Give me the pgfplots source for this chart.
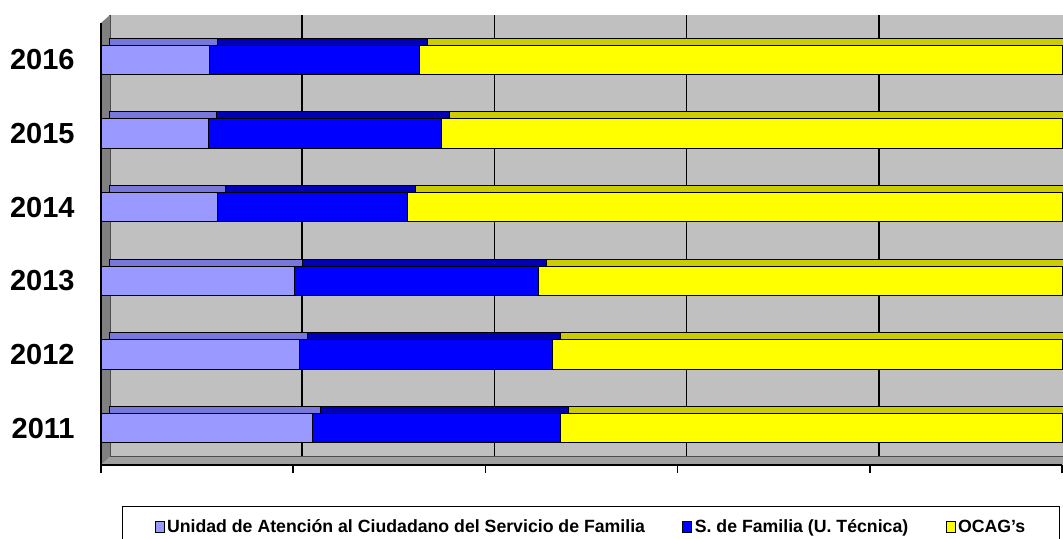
\documentclass[border=0pt]{standalone}
\usepackage{fontspec}
\setmainfont{Liberation Sans}
\usepackage{pgfplots}
\pgfplotsset{compat=1.18}
\definecolor{ltblue}{HTML}{9999FF}
\definecolor{ltbluetop}{HTML}{7878DC}
\definecolor{dkblue}{HTML}{0000FF}
\definecolor{dkbluetop}{HTML}{0000B4}
\definecolor{ylw}{HTML}{FFFF00}
\definecolor{ylwtop}{HTML}{CCCC00}
\definecolor{wall}{HTML}{C0C0C0}
\definecolor{sidewall}{HTML}{808080}
\definecolor{floorgray}{HTML}{A0A0A0}

% data: share of each unit per year (percent)
\pgfplotstableread{
year uac sfam ocag
2011 22.0 25.8 52.2
2012 20.7 26.3 53.0
2013 20.1 25.4 54.5
2014 12.1 19.8 68.1
2015 11.2 24.2 64.6
2016 11.3 21.8 66.9
}\shares

\begin{document}
\begin{tikzpicture}[x=1pt,y=1pt]
\pgfplotsset{
  base/.style={
    scale only axis, width=480.5pt, height=221pt,
    xmin=0, xmax=100, ymin=2010.5, ymax=2016.5,
    enlargelimits=false, clip=false,
  },
  bars/.style={
    xbar stacked, bar width=14.75pt,
  },
}

% ---------------- back wall with grid ----------------
\begin{axis}[base, at={(55pt,41pt)}, anchor=south west,
  axis background/.style={fill=wall},
  axis line style={draw=none},
  xtick={0,20,...,100}, xticklabels={}, ytick=\empty,
  major tick length=0pt,
  xmajorgrids, major grid style={black, line width=0.8pt},
]
\end{axis}

% side wall and floor
\fill[sidewall] (50.5,37) -- (55,41) -- (55,262) -- (50.5,258) -- cycle;
\fill[floorgray] (50.5,37) -- (531,37) -- (535.5,41) -- (55,41) -- cycle;
\draw[black!70, line width=0.5pt] (55,41) -- (55,262);
\draw[black!70, line width=0.5pt] (55,41) -- (535.5,41);

% ---------------- bar tops (depth layer) ----------------
\begin{axis}[base, bars, at={(54.5pt,40.5pt)}, anchor=south west,
  axis lines=none, ytick=\empty, xtick=\empty,
]
\addplot[fill=ltbluetop, draw=black, line width=0.5pt] table[x=uac, y=year] {\shares};
\addplot[fill=dkbluetop, draw=black, line width=0.5pt] table[x=sfam, y=year] {\shares};
\addplot[fill=ylwtop, draw=black, line width=0.5pt] table[x=ocag, y=year] {\shares};
\end{axis}

% ---------------- front faces ----------------
\begin{axis}[base, bars, at={(50.5pt,37pt)}, anchor=south west,
  axis lines*=left,
  axis line style={black, line width=0.8pt},
  tick align=outside,
  xtick={0,20,...,100}, xticklabels={},
  ytick={2011,...,2016},
  yticklabels={2011,2012,2013,2014,2015,2016},
  minor ytick={2010.5,2011.5,...,2016.5},
  major tick length=4pt, minor tick length=3pt,
  tick style={black, line width=0.8pt},
  ytick style={draw=none},
  minor tick style={draw=black},
  yticklabel style={font=\bfseries\fontsize{14.5}{16}\selectfont,
    anchor=east, inner sep=0pt, xshift=-9pt},
  legend columns=3,
  legend cell align=left,
  legend image code/.code={\draw[#1, draw=black, line width=0.5pt] (0pt,-2.8pt) rectangle (4.5pt,2.8pt);},
  legend style={at={(0.0219,0)}, anchor=north west, yshift=-20.5pt,
    draw=black, line width=0.6pt, fill=white,
    font=\bfseries\fontsize{8.85}{10}\selectfont,
    inner xsep=16pt, inner ysep=2.5pt,
    /tikz/every even column/.append style={column sep=17.5pt},
    nodes={inner xsep=1.2pt, inner ysep=2.5pt, text height=1.55ex, text depth=0.35ex}},
]
\addplot[fill=ltblue, draw=black, line width=0.5pt] table[x=uac, y=year] {\shares};
\addlegendentry{Unidad de Atención al Ciudadano del Servicio de Familia}
\addplot[fill=dkblue, draw=black, line width=0.5pt] table[x=sfam, y=year] {\shares};
\addlegendentry{S. de Familia (U. Técnica)}
\addplot[fill=ylw, draw=black, line width=0.5pt] table[x=ocag, y=year] {\shares};
\addlegendentry{OCAG's}
\end{axis}

\pgfresetboundingbox
\useasboundingbox (0,0) rectangle (531.5,269.5);
\end{tikzpicture}
\end{document}
